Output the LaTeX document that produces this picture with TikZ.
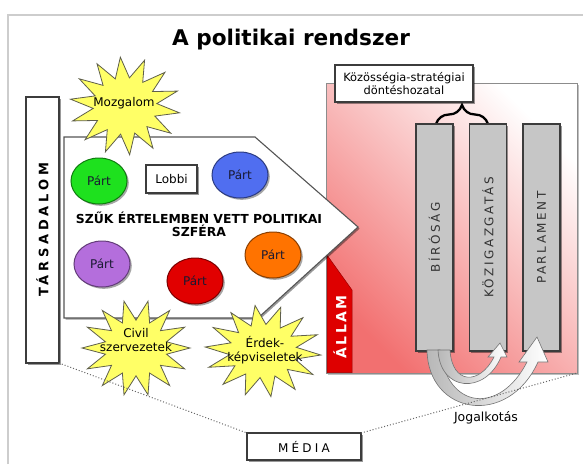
\documentclass[tikz,border=0pt]{standalone}
\usepackage{fontspec}
\setmainfont{DejaVu Sans}
\usetikzlibrary{shadows,decorations.pathreplacing,shapes.geometric,calc}
\definecolor{frameg}{RGB}{205,205,205}
\definecolor{boxline}{RGB}{60,60,60}
\definecolor{starfill}{RGB}{255,255,102}
\definecolor{starline}{RGB}{95,95,75}
\definecolor{pgreen}{RGB}{30,225,30}
\definecolor{pblue}{RGB}{80,110,240}
\definecolor{ppurple}{RGB}{180,110,220}
\definecolor{pred}{RGB}{225,0,0}
\definecolor{porange}{RGB}{255,115,0}
\definecolor{allamred}{RGB}{222,0,0}
\definecolor{graybox}{RGB}{198,198,198}
\definecolor{txtdark}{RGB}{25,25,50}
\definecolor{pinkA}{RGB}{242,112,112}
\definecolor{pinkM}{RGB}{250,216,216}
\definecolor{pentline}{RGB}{85,85,85}
\newcommand\myfs[2]{\fontsize{#1}{#2}\selectfont}
\newcommand\burst[5]{%
  \draw[starst] plot[samples at={0,...,27}, variable=\k]
   ({#1+(0.58+0.42*mod(\k+1,2))*#3*cos(\k*360/28+#5)},
    {#2+(0.58+0.42*mod(\k+1,2))*#4*sin(\k*360/28+#5)}) -- cycle;}
\begin{document}
\begin{tikzpicture}[x=1pt,y=-1pt,
  every node/.style={inner sep=0pt, outer sep=0pt},
  shad/.style={drop shadow={shadow xshift=1.6pt, shadow yshift=-1.6pt, opacity=.4, fill=black}},
  box/.style={draw=boxline, line width=1.3pt, fill=white, shad},
  gbox/.style={draw=boxline, line width=1.2pt, fill=graybox, shad, minimum width=37pt, minimum height=227pt},
  glabel/.style={rotate=90, font=\myfs{12}{14}\addfontfeatures{LetterSpace=21}, text=black!80},
  party/.style={ellipse, draw=#1!55!black, line width=1pt, fill=#1, minimum width=56pt, minimum height=46pt,
    drop shadow={shadow xshift=1.8pt, shadow yshift=-1.8pt, opacity=.35, fill=black},
    font=\myfs{12}{14}, text=txtdark},
  starst/.style={draw=starline, fill=starfill, line width=0.8pt, line join=miter},
  pent/.style={draw=pentline, line width=1.1pt, fill=white, shad},
  arr/.style={draw=black!55, line width=0.6pt, left color=black!28, right color=white},
  dotline/.style={black!60, line width=1pt, dotted},
  stxt/.style={font=\myfs{12}{13.5}, align=center, text=black}
]
\useasboundingbox (0,0) rectangle (583,464);
% frame
\draw[frameg, line width=1.5pt] (8,464) -- (8,15) -- (583,15);
% title
\node[anchor=base, font=\bfseries\myfs{21.6}{24}] (title) at (291,45) {A politikai rendszer};
% state region
\node[draw={rgb,255:red,140;green,140;blue,140}, line width=0.8pt, minimum width=251pt, minimum height=290pt,
  top color=white, middle color=pinkM, bottom color=pinkA, shading angle=-45,
  drop shadow={shadow xshift=1.5pt, shadow yshift=-1.5pt, opacity=.25, fill=black}] (state) at (451.5,228) {};
\fill[allamred, draw=allamred!70!black, line width=0.5pt] (327,255) -- (352,290) -- (352,372.6) -- (327,372.6) -- cycle;
\node[rotate=90, text=white, font=\bfseries\myfs{14}{16}\addfontfeatures{LetterSpace=16}] (allam) at (340,327) {ÁLLAM};
% decision box
\node[box, minimum width=138pt, minimum height=37pt, align=center, font=\myfs{11.4}{13}] (kozos) at (404,83.5) {Közösségia-stratégiai\\döntéshozatal};
% brace
\draw[decorate, decoration={brace, amplitude=19pt}, line width=2.3pt] (436,124) -- (488,124);
% branches
\node[gbox] (birosag) at (434.5,237.5) {};
\node[gbox] (kozig) at (488,237.5) {};
\node[gbox] (parl) at (541.5,237.5) {};
\node[glabel] (birosagtxt) at (birosag.center) {BÍRÓSÁG};
\node[glabel] (koziggtxt) at (kozig.center) {KÖZIGAZGATÁS};
\node[glabel] (parltxt) at (parl.center) {PARLAMENT};
% law-making arrows
\draw[arr] (440,350) .. controls (447,410) and (500,415) .. (527,362) -- (519,362) -- (537,337) -- (548,362) -- (538,362)
  .. controls (508,428) and (428,415) .. (427,350) -- cycle;
\draw[arr] (450,350) .. controls (452,385) and (480,385) .. (494,357) -- (488,357) -- (500,343) -- (507,357) -- (501,357)
  .. controls (485,395) and (440,392) .. (438,350) -- cycle;
\node[font=\myfs{12.5}{14}] (jog) at (486,418) {Jogalkotás};
% society
\node[box, minimum width=33pt, minimum height=266pt] (tars) at (42.5,230) {};
\node[rotate=90, font=\bfseries\myfs{13}{15}\addfontfeatures{LetterSpace=29}] (tarstxt) at (tars.center) {TÁRSADALOM};
% political sphere
\draw[pent] (64,137) -- (255,137) -- (358,227) -- (258,318) -- (64,318) -- cycle;
\burst{125}{106}{55}{49}{8}
\node[stxt] (mozg) at (124,103) {Mozgalom};
\node[party=pgreen] (p1) at (99,181) {Párt};
\node[party=pblue] (p2) at (240,175) {Párt};
\node[party=ppurple] (p3) at (102,264) {Párt};
\node[party=pred] (p4) at (195,281) {Párt};
\node[party=porange] (p5) at (273,255) {Párt};
\node[box, line width=1.1pt, minimum width=51pt, minimum height=28pt, font=\myfs{12}{14}] (lobbi) at (171.5,179) {Lobbi};
\node[font=\bfseries\myfs{12.4}{11.5}, align=center] (szfera) at (199,224.5) {SZŰK ÉRTELEMBEN VETT POLITIKAI\\SZFÉRA};
\burst{136}{348}{54}{48}{0}
\node[stxt] (civil) at (136,340) {Civil\\szervezetek};
\burst{263}{351}{58}{46}{5}
\node[stxt] (erdek) at (265,350) {Érdek-\\képviseletek};
% media
\node[box, minimum width=114pt, minimum height=27pt, font=\myfs{12}{14}\addfontfeatures{LetterSpace=27}] (media) at (304,446.5) {MÉDIA};
\draw[dotline] (tars.south east) -- (media.north west);
\draw[dotline] (media.north east) -- (state.south east);
\end{tikzpicture}
\end{document}
